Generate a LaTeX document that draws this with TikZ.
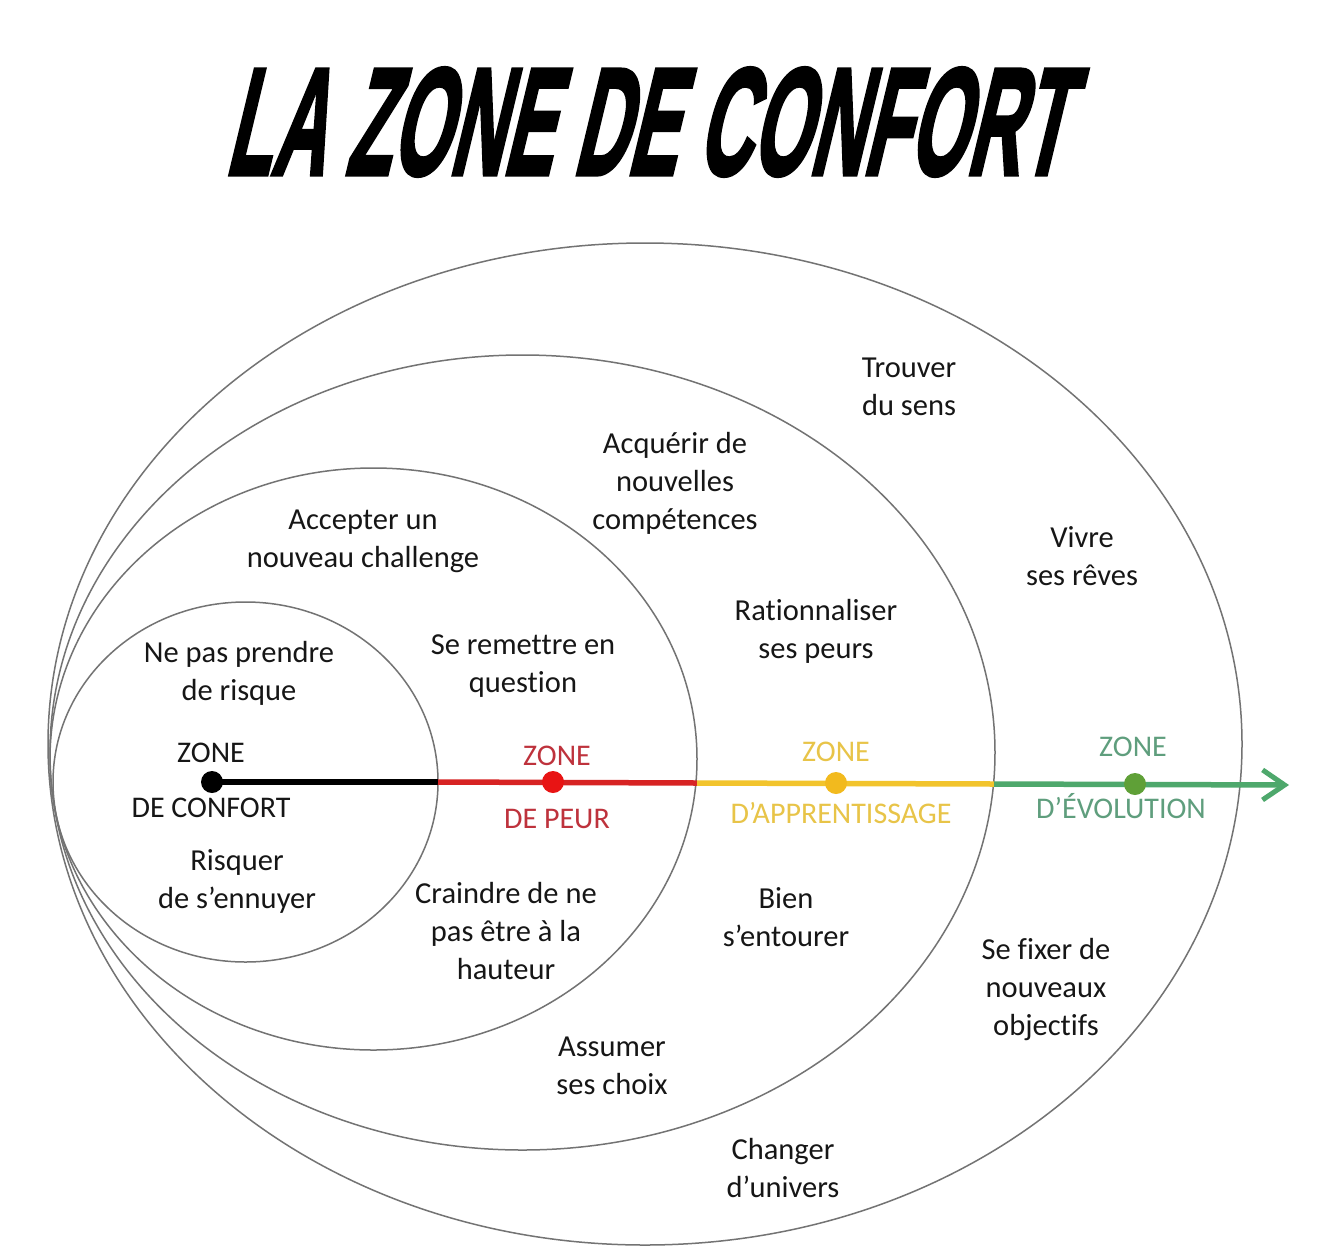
\documentclass[tikz,border=0pt]{standalone}
\usepackage{fontspec}
\setmainfont{Carlito}[Ligatures=NoCommon]
\newfontfamily\titlefont{Liberation Sans}[BoldFeatures={FakeBold=3}]
\usetikzlibrary{arrows.meta,shapes.geometric}
\definecolor{ringcol}{RGB}{115,115,115}
\definecolor{txtcol}{RGB}{22,22,22}
\definecolor{redline}{RGB}{215,35,35}
\definecolor{redtxt}{RGB}{190,50,60}
\definecolor{reddot}{RGB}{232,20,20}
\definecolor{yelline}{RGB}{242,196,45}
\definecolor{yeltxt}{RGB}{232,196,72}
\definecolor{yeldot}{RGB}{242,186,30}
\definecolor{grnline}{RGB}{78,168,108}
\definecolor{grntxt}{RGB}{95,158,125}
\definecolor{grndot}{RGB}{95,160,55}
\begin{document}
\begin{tikzpicture}[x=1pt,y=-1pt,
  ring/.style={ellipse, draw=ringcol, line width=1.5pt, inner sep=0pt, outer sep=0pt},
  lbl/.style={align=center, inner sep=0pt, text=txtcol, font=\fontsize{30.5}{38}\selectfont},
  zlbl/.style={anchor=base, inner sep=0pt, font=\fontsize{30}{36}\selectfont},
  axisline/.style={line width=5.5pt},
  dotnode/.style={circle, inner sep=0pt, minimum size=22pt}]
\fill[white] (0,0) rectangle (1320,1254);
\useasboundingbox (0,0) rectangle (1320,1254);

% title
\begin{scope}[shift={(657,122)}, xslant=0.24, xscale=0.49]
\node[transform shape, inner sep=0pt, font=\titlefont\bfseries\fontsize{152}{152}\selectfont] (title) at (0,0) {LA ZONE DE CONFORT};
\end{scope}

% zones
\node[ring, minimum width=1194pt, minimum height=1002pt] (e4) at (645,744) {};
\node[ring, minimum width=945pt, minimum height=795pt] (e3) at (522.5,752.5) {};
\node[ring, minimum width=647pt, minimum height=582pt] (e2) at (373.5,759) {};
\node[ring, minimum width=385pt, minimum height=360pt] (e1) at (245.5,782) {};

% axis
\coordinate (c1) at (212,782);
\coordinate (c2) at (553,782);
\coordinate (c3) at (836,783);
\coordinate (c4) at (1135,784);
\coordinate (b1) at (438,782);
\coordinate (b2) at (697,783);
\coordinate (b3) at (994,784);
\coordinate (tip) at (1289,785);
\draw[axisline, black] (c1) -- (b1);
\draw[axisline, redline] (b1) -- (b2);
\draw[axisline, yelline] (b2) -- (b3);
\draw[axisline, grnline, -{Straight Barb[length=22pt,width=30pt,line width=5pt]}] (b3) -- (tip);
\node[dotnode, fill=black] (d1) at (c1) {};
\node[dotnode, fill=reddot] (d2) at (c2) {};
\node[dotnode, fill=yeldot] (d3) at (c3) {};
\node[dotnode, fill=grndot] (d4) at (c4) {};

% zone labels
\node[zlbl, text=txtcol] (z1a) at (211,762) {ZONE};
\node[zlbl, text=txtcol] (z1b) at (211,817) {DE CONFORT};
\node[zlbl, text=redtxt] (z2a) at (557,765) {ZONE};
\node[zlbl, text=redtxt] (z2b) at (557,828) {DE PEUR};
\node[zlbl, text=yeltxt] (z3a) at (836,761) {ZONE};
\node[zlbl, text=yeltxt] (z3b) at (841,823) {D’APPRENTISSAGE};
\node[zlbl, text=grntxt] (z4a) at (1133,756) {ZONE};
\node[zlbl, text=grntxt] (z4b) at (1121,818) {D’ÉVOLUTION};

% texts
\node[lbl] (tsens) at (909,387) {Trouver\\du sens};
\node[lbl] (tcomp) at (675,483.5) {Acquérir de\\nouvelles\\compétences};
\node[lbl] (tchal) at (363,541) {Accepter un\\nouveau challenge};
\node[lbl] (treve) at (1082,556) {Vivre\\ses rêves};
\node[lbl] (tpeur) at (816,631.5) {Rationnaliser\\ses peurs};
\node[lbl] (trisq) at (239,673.5) {Ne pas prendre\\de risque};
\node[lbl] (tquest) at (523,666.5) {Se remettre en\\question};
\node[lbl] (tennui) at (237,881.5) {Risquer\\de s’ennuyer};
\node[lbl] (thaut) at (506,931.5) {Craindre de ne\\pas être à la\\hauteur};
\node[lbl] (tento) at (786,917.5) {Bien\\s’entourer};
\node[lbl] (tobj) at (1046,990) {Se fixer de\\nouveaux\\objectifs};
\node[lbl] (tchoix) at (612,1065.5) {Assumer\\ses choix};
\node[lbl] (tuniv) at (783,1168.5) {Changer\\d’univers};
\end{tikzpicture}
\end{document}
